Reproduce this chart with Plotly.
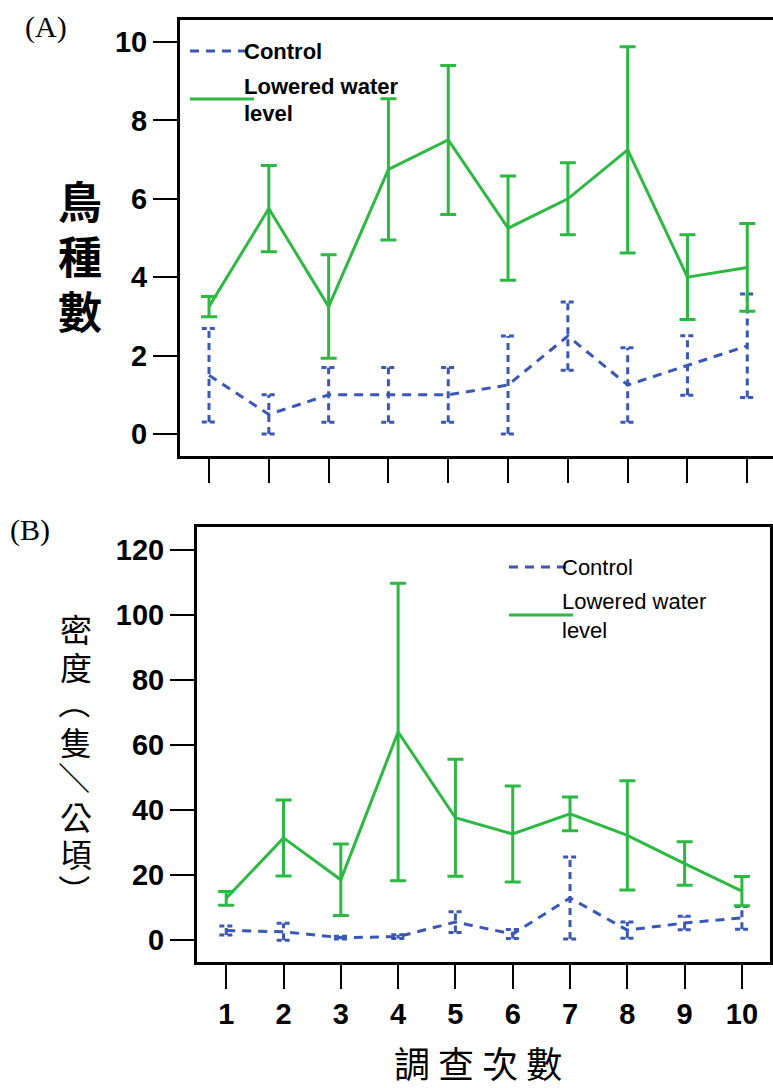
import plotly.graph_objects as go

# Survey rounds
rounds = [1, 2, 3, 4, 5, 6, 7, 8, 9, 10]
x_tick_labels = ["1", "2", "3", "4", "5", "6", "7", "8", "9", "10"]

# (A) number of bird species: mean and error half-width
species_control = [1.5, 0.5, 1.0, 1.0, 1.0, 1.25, 2.5, 1.25, 1.75, 2.25]
species_control_err = [1.19, 0.5, 0.7, 0.7, 0.7, 1.25, 0.87, 0.95, 0.76, 1.32]
species_lowered = [3.25, 5.75, 3.25, 6.75, 7.5, 5.25, 6.0, 7.25, 4.0, 4.25]
species_lowered_err = [0.26, 1.1, 1.32, 1.8, 1.9, 1.33, 0.92, 2.63, 1.08, 1.12]

# (B) density (birds / ha): mean and error half-width
density_control = [2.9, 2.5, 0.7, 1.0, 5.5, 1.8, 12.9, 3.0, 5.2, 6.8]
density_control_err = [1.4, 2.6, 0.4, 0.6, 3.2, 1.4, 12.6, 2.5, 2.1, 3.5]
density_lowered = [12.8, 31.4, 18.5, 64.0, 37.6, 32.6, 38.8, 32.2, 23.5, 15.0]
density_lowered_err = [2.1, 11.7, 11.0, 45.8, 18.0, 14.8, 5.2, 16.8, 6.7, 4.5]

species_ticks = [0, 2, 4, 6, 8, 10]
density_ticks = [0, 20, 40, 60, 80, 100, 120]

GREEN = "#2DB843"
BLUE = "#3B57B5"
W, H = 773, 1088


def px_x(p):
    return p / W


def px_y(p):
    return 1 - p / H


def bar_segments(x, mean, err, half):
    xs, ys = [], []
    for xi, mi, ei in zip(x, mean, err):
        xs += [xi, xi, None]
        ys += [mi - ei, mi + ei, None]
    caps_x, caps_y = [], []
    for xi, mi, ei in zip(x, mean, err):
        for yv in (mi - ei, mi + ei):
            caps_x += [xi - half, xi + half, None]
            caps_y += [yv, yv, None]
    return xs, ys, caps_x, caps_y


fig = go.Figure()


def add_panel(xa, ya, ctrl, ctrl_err, low, low_err, half):
    # control: dashed line + dashed error bars
    bx, by, cx, cy = bar_segments(rounds, ctrl, ctrl_err, half)
    fig.add_trace(go.Scatter(x=bx, y=by, mode="lines", xaxis=xa, yaxis=ya,
                             line=dict(color=BLUE, width=3, dash="7px,5px"),
                             showlegend=False, hoverinfo="skip"))
    fig.add_trace(go.Scatter(x=cx, y=cy, mode="lines", xaxis=xa, yaxis=ya,
                             line=dict(color=BLUE, width=3, dash="5px,3px"),
                             showlegend=False, hoverinfo="skip"))
    fig.add_trace(go.Scatter(x=rounds, y=ctrl, mode="lines", xaxis=xa, yaxis=ya,
                             line=dict(color=BLUE, width=3, dash="9px,7px"),
                             name="Control", showlegend=False))
    # lowered water level: solid line + error bars
    fig.add_trace(go.Scatter(x=rounds, y=low, mode="lines", xaxis=xa, yaxis=ya,
                             line=dict(color=GREEN, width=3),
                             error_y=dict(type="data", array=low_err, visible=True,
                                          color=GREEN, thickness=3, width=8),
                             name="Lowered water level", showlegend=False))


add_panel("x", "y", species_control, species_control_err,
          species_lowered, species_lowered_err, 0.12)
add_panel("x2", "y2", density_control, density_control_err,
          density_lowered, density_lowered_err, 0.12)

tick_font = dict(family="Liberation Sans, Arial, sans-serif", size=29,
                 color="black", weight="bold")

axis_common = dict(showline=True, linecolor="black", linewidth=3,
                   ticks="outside", ticklen=24, tickwidth=2, tickcolor="black",
                   showgrid=False, zeroline=False, tickfont=tick_font)

fig.update_layout(
    width=W, height=H,
    margin=dict(l=0, r=0, t=0, b=0),
    paper_bgcolor="white", plot_bgcolor="white",
    showlegend=False,
    xaxis=dict(domain=[px_x(180), 1.0], range=[0.515, 10.43],
               tickvals=rounds, showticklabels=False, mirror=True,
               anchor="y", **axis_common),
    yaxis=dict(domain=[px_y(456), px_y(20)], range=[-0.56, 10.56],
               tickvals=species_ticks, anchor="x", **axis_common),
    xaxis2=dict(domain=[px_x(197), px_x(770)], range=[0.49, 10.49],
                tickvals=rounds, ticktext=x_tick_labels, mirror=True,
                anchor="y2", **axis_common),
    yaxis2=dict(domain=[px_y(962), px_y(527)], range=[-6.8, 127.1],
                tickvals=density_ticks, anchor="x2", mirror=True, **axis_common),
)

ann = []
serif = "Liberation Serif, Times New Roman, serif"
# panel letters
ann.append(dict(text="(A)", x=px_x(23), y=px_y(27), xanchor="left", yanchor="middle",
                font=dict(family=serif, size=30, color="black")))
ann.append(dict(text="(B)", x=px_x(8), y=px_y(530), xanchor="left", yanchor="middle",
                font=dict(family=serif, size=30, color="black")))

cjk = "Noto Sans CJK TC, Noto Sans CJK SC, sans-serif"
# vertical y title (A)
for i, ch in enumerate("鳥種數"):
    ann.append(dict(text=ch, x=px_x(80), y=px_y(200 + i * 55), xanchor="center", yanchor="middle",
                    font=dict(family=cjk, size=44, color="black", weight="bold")))
# vertical y title (B): punctuation is turned to read top-to-bottom
for i, ch in enumerate("密度（隻／公頃）"):
    rotate = ch in "（／）"
    ann.append(dict(text=ch, x=px_x(76), y=px_y(628 + i * 37.5), xanchor="center", yanchor="middle",
                    textangle=90 if rotate else 0,
                    font=dict(family=cjk, size=32, color="black")))
# x title
ann.append(dict(text="調 查 次 數", x=px_x(478), y=px_y(1062), xanchor="center", yanchor="middle",
                font=dict(family=cjk, size=36, color="black")))

# legends
leg_a = dict(family="Liberation Sans, Arial, sans-serif", size=22, color="black", weight="bold")
ann.append(dict(text="Control", x=px_x(242), y=px_y(51), xanchor="left", yanchor="middle", font=leg_a))
ann.append(dict(text="Lowered water", x=px_x(242), y=px_y(86), xanchor="left", yanchor="middle", font=leg_a))
ann.append(dict(text="level", x=px_x(242), y=px_y(113), xanchor="left", yanchor="middle", font=leg_a))
leg_b = dict(family="Liberation Sans, Arial, sans-serif", size=22, color="black")
ann.append(dict(text="Control", x=px_x(560), y=px_y(567), xanchor="left", yanchor="middle", font=leg_b))
ann.append(dict(text="Lowered water", x=px_x(560), y=px_y(601), xanchor="left", yanchor="middle", font=leg_b))
ann.append(dict(text="level", x=px_x(560), y=px_y(630), xanchor="left", yanchor="middle", font=leg_b))

for a in ann:
    a.update(xref="paper", yref="paper", showarrow=False)
fig.update_layout(annotations=ann)

shapes = [
    dict(type="line", x0=px_x(190), x1=px_x(252), y0=px_y(51), y1=px_y(51),
         line=dict(color=BLUE, width=3, dash="9px,7px")),
    dict(type="line", x0=px_x(190), x1=px_x(254), y0=px_y(99), y1=px_y(99),
         line=dict(color=GREEN, width=3)),
    dict(type="line", x0=px_x(509), x1=px_x(573), y0=px_y(567), y1=px_y(567),
         line=dict(color=BLUE, width=3, dash="9px,7px")),
    dict(type="line", x0=px_x(509), x1=px_x(573), y0=px_y(615), y1=px_y(615),
         line=dict(color=GREEN, width=3)),
]
for s in shapes:
    s.update(xref="paper", yref="paper")
fig.update_layout(shapes=shapes)

fig.write_html("out.html")
